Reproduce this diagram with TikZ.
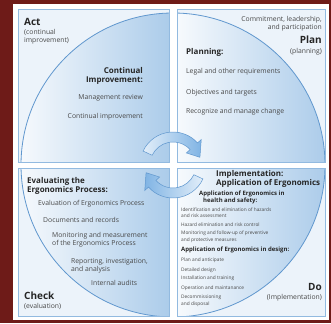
\documentclass[tikz,border=0pt]{standalone}
\usepackage{fontspec}
\setmainfont{Open Sans}
\usepackage{xcolor}
\definecolor{wallred}{RGB}{110,27,24}
\definecolor{panelfill}{RGB}{236,243,250}
\definecolor{panelline}{RGB}{146,186,224}
\definecolor{arcblue}{RGB}{96,151,206}
\definecolor{discpale}{RGB}{247,250,253}
\definecolor{discblue}{RGB}{172,204,234}
\definecolor{arrowpale}{RGB}{226,238,249}
\definecolor{arrowblue}{RGB}{128,180,228}
\definecolor{bodytext}{RGB}{72,72,72}
\definecolor{headtext}{RGB}{38,38,38}

\tikzset{
  stage/.style={inner sep=0pt, text=headtext, font=\bfseries\fontsize{10}{11}\selectfont},
  heading/.style={inner sep=0pt, text=headtext, font=\bfseries\fontsize{8}{8.8}\selectfont},
  subheading/.style={inner sep=0pt, text=headtext, font=\bfseries\fontsize{6}{7}\selectfont},
  item/.style={inner sep=0pt, text=bodytext, font=\fontsize{6.8}{8.2}\selectfont},
  smallitem/.style={inner sep=0pt, text=bodytext, font=\fontsize{4.8}{6.6}\selectfont},
  cyclearrow/.style={draw=arcblue, line width=0.5pt}
}

\begin{document}
\begin{tikzpicture}[x=1pt, y=-1pt]
\useasboundingbox (0,0) rectangle (331,323);
\fill[wallred] (0,0) rectangle (331,323);
\fill[white] (13,4) rectangle (329,320);
\coordinate (hub) at (173,165);

% four quadrants, each holding a quarter of the big circle
\foreach \xa/\ya/\xb/\yb in {18/9/169/162, 177/9/325/162, 18/168/169/316, 177/168/325/316} {
  \fill[panelfill] (\xa,\ya) rectangle (\xb,\yb);
  \begin{scope}
    \clip (hub) circle[radius=152];
    \shade[left color=discpale, right color=discblue] (\xa,\ya) rectangle (\xb,\yb);
  \end{scope}
  \begin{scope}
    \clip (\xa,\ya) rectangle (\xb,\yb);
    \draw[arcblue, line width=0.8pt] (hub) circle[radius=152];
  \end{scope}
  \draw[panelline, line width=0.8pt] (\xa,\ya) rectangle (\xb,\yb);
}

% the two turning arrows round the hub
\begin{scope}[shift={(hub)}]
  \shade[cyclearrow, left color=arrowpale, right color=arrowblue]
    (-155:33) arc[start angle=-155, end angle=-42, radius=33]
    -- (-42:38) -- (-16:28) -- (-42:18) -- (-42:23)
    arc[start angle=-42, end angle=-155, radius=23] -- cycle;
  \shade[cyclearrow, left color=arrowblue, right color=arrowpale]
    (25:33) arc[start angle=25, end angle=138, radius=33]
    -- (138:38) -- (164:28) -- (138:18) -- (138:23)
    arc[start angle=138, end angle=25, radius=23] -- cycle;
\end{scope}

% Act
\node[stage, anchor=west] (act) at (24,22) {Act};
\node[item, anchor=west, align=left] (actnote) at (24,37) {(continual\\improvement)};
\node[heading, anchor=east, align=right] (actheading) at (143,76) {Continual\\Improvement:};
\node[item, anchor=east] (review) at (143,98) {Management review};
\node[item, anchor=east] (improve) at (143,117) {Continual improvement};

% Plan
\node[item, anchor=east, align=right] (commit) at (322,24) {Commitment, leadership,\\and participation};
\node[stage, anchor=east] (plan) at (322,40) {Plan};
\node[item, anchor=east] (plannote) at (322,52) {(planning)};
\node[heading, anchor=west] (planheading) at (186,52) {Planning:};
\node[item, anchor=west] (legal) at (186,72) {Legal and other requirements};
\node[item, anchor=west] (targets) at (186,93) {Objectives and targets};
\node[item, anchor=west] (change) at (186,112) {Recognize and manage change};

% Check
\node[heading, anchor=west, align=left] (checkheading) at (27,186) {Evaluating the\\Ergonomics Process:};
\node[item, anchor=west] (evalproc) at (38,204) {Evaluation of Ergonomics Process};
\node[item, anchor=west] (records) at (43,220) {Documents and records};
\node[item, anchor=west, align=left] (monitor) at (52,240) {Monitoring and measurement\\of the Ergonomics Process};
\node[item, anchor=west, align=left] (reporting) at (71,266) {Reporting, investigation,\\and analysis};
\node[item, anchor=west] (audits) at (91,283) {Internal audits};
\node[stage, anchor=west] (check) at (24,296) {Check};
\node[item, anchor=west] (checknote) at (24,306) {(evaluation)};

% Do
\node[heading, anchor=west, align=left] (doheading) at (216,179) {Implementation:\\Application of Ergonomics};
\node[subheading, anchor=west, align=left] (safetyhead) at (199,197.5) {Application of Ergonomics in\\\hspace{4pt}health and safety:};
\node[smallitem, anchor=west, align=left] (hazards) at (181,212.5) {Identification and elimination of hazards\\and risk assessment};
\node[smallitem, anchor=west] (hazardctl) at (181,225) {Hazard elimination and risk control};
\node[smallitem, anchor=west, align=left] (followup) at (181,236.5) {Monitoring and follow-up of preventive\\and protective measures};
\node[subheading, anchor=west] (designhead) at (181,250) {Application of Ergonomics in design:};
\node[smallitem, anchor=west] (anticipate) at (181,260) {Plan and anticipate};
\node[smallitem, anchor=west] (detailed) at (181,270) {Detailed design};
\node[smallitem, anchor=west] (install) at (181,278) {Installation and training};
\node[smallitem, anchor=west] (operation) at (181,288) {Operation and maintanance};
\node[smallitem, anchor=west, align=left] (decommission) at (181,301) {Decommissioning\\and disposal};
\node[stage, anchor=east] (dostage) at (322,287) {Do};
\node[item, anchor=east] (donote) at (322,298) {(Implementation)};
\end{tikzpicture}
\end{document}
